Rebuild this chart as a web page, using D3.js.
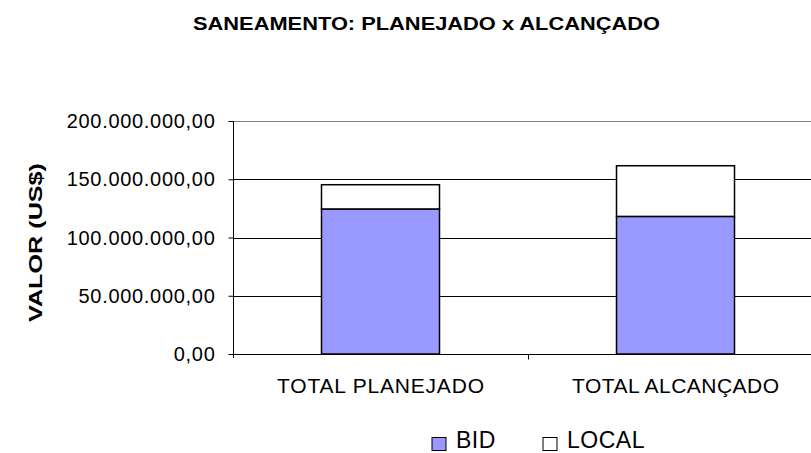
<!DOCTYPE html>
<html>
<head>
<meta charset="utf-8">
<script src="https://cdn.jsdelivr.net/npm/d3@7"></script>
<style>
  body { margin: 0; background: #fff; }
  svg { display: block; font-family: "Liberation Sans", Arial, sans-serif; }
</style>
</head>
<body>
<svg id="chart" width="811" height="453"></svg>
<script>
// DATA
var categories = ['TOTAL PLANEJADO', 'TOTAL ALCANÇADO'];
var bid_values = [124500000, 118100000];
var local_values = [20800000, 43500000];
var y_ticks = [0, 50000000, 100000000, 150000000, 200000000];
var series_names = ['BID', 'LOCAL'];
var series_colors = ['#9999ff', '#ffffff'];

// CHART
var svg = d3.select('svg#chart');
var plot_left = 233, plot_top = 121, plot_bottom = 354, plot_right = 823;

var x = d3.scaleBand().domain(categories).range([plot_left, plot_right]);
var y = d3.scaleLinear().domain([0, 200000000]).range([plot_bottom, plot_top]);

// brazilian number format: 150.000.000,00
var fmt = d3.formatLocale({ decimal: ',', thousands: '.', grouping: [3], currency: ['', ''] }).format(',.2f');

// title
svg.append('text')
    .attr('x', 426.5).attr('y', 30)
    .attr('text-anchor', 'middle')
    .attr('font-size', 18).attr('font-weight', 'bold')
    .attr('textLength', 467).attr('lengthAdjust', 'spacingAndGlyphs')
    .text('SANEAMENTO: PLANEJADO x ALCANÇADO');

// gridlines
svg.append('g').selectAll('line')
    .data(y_ticks.slice(1))
    .join('line')
    .attr('x1', plot_left).attr('x2', 811)
    .attr('y1', function(d) { return Math.round(y(d)) + 0.5; })
    .attr('y2', function(d) { return Math.round(y(d)) + 0.5; })
    .attr('stroke', function(d) { return d === 200000000 ? '#808080' : '#000'; })
    .attr('stroke-width', 1);

// stacked bars
var rows = categories.map(function(c, i) { return { cat: c, BID: bid_values[i], LOCAL: local_values[i] }; });
var stacked = d3.stack().keys(series_names)(rows);
var bw = x.bandwidth() * 0.4;

svg.append('g').selectAll('g')
    .data(stacked)
    .join('g')
    .attr('fill', function(d, i) { return series_colors[i]; })
    .selectAll('rect')
    .data(function(d) { return d; })
    .join('rect')
    .attr('x', function(d) { return x(d.data.cat) + (x.bandwidth() - bw) / 2; })
    .attr('width', bw)
    .attr('y', function(d) { return y(d[1]); })
    .attr('height', function(d) { return y(d[0]) - y(d[1]); })
    .attr('stroke', '#000')
    .attr('stroke-width', 1.5);

// y axis
var yAxis = svg.append('g')
    .attr('transform', 'translate(' + (plot_left + 0.5) + ',0)')
    .call(d3.axisLeft(y).tickValues(y_ticks).tickSize(5).tickPadding(13).tickFormat(fmt));
yAxis.select('.domain').attr('d', 'M0,' + plot_top + 'V' + (plot_bottom + 4)).attr('stroke', '#000');
yAxis.selectAll('text')
    .attr('font-family', '"Liberation Sans", Arial, sans-serif')
    .attr('font-size', 20).attr('fill', '#000')
    .attr('dy', '0.33em')
    .attr('letter-spacing', 0.7);
yAxis.selectAll('.tick line').attr('stroke', '#000');

// x axis
var xAxis = svg.append('g')
    .attr('transform', 'translate(0,' + (plot_bottom + 0.5) + ')');
xAxis.append('line')
    .attr('x1', plot_left).attr('x2', 811)
    .attr('stroke', '#000');
xAxis.selectAll('line.tk')
    .data(categories.slice(1))
    .join('line')
    .attr('class', 'tk')
    .attr('x1', function(d) { return Math.round(x(d)) + 0.5; })
    .attr('x2', function(d) { return Math.round(x(d)) + 0.5; })
    .attr('y1', 0).attr('y2', 5)
    .attr('stroke', '#000');
xAxis.selectAll('text')
    .data(categories)
    .join('text')
    .attr('x', function(d) { return x(d) + x.bandwidth() / 2; })
    .attr('y', 38.5)
    .attr('text-anchor', 'middle')
    .attr('font-size', 21)
    .attr('textLength', 207).attr('lengthAdjust', 'spacing')
    .text(function(d) { return d; });

// y axis title
svg.append('text')
    .attr('transform', 'translate(41.5,242.5) rotate(-90)')
    .attr('text-anchor', 'middle')
    .attr('font-size', 19).attr('font-weight', 'bold')
    .attr('textLength', 159).attr('lengthAdjust', 'spacingAndGlyphs')
    .text('VALOR (US$)');

// legend
var legend_x = [432, 543];
var lg = svg.append('g').selectAll('g')
    .data(series_names)
    .join('g')
    .attr('transform', function(d, i) { return 'translate(' + legend_x[i] + ',437.5)'; });
lg.append('rect')
    .attr('width', 14).attr('height', 13)
    .attr('fill', function(d, i) { return series_colors[i]; })
    .attr('stroke', '#000').attr('stroke-width', 1);
lg.append('text')
    .attr('x', 24).attr('y', 10.5)
    .attr('font-size', 23)
    .attr('letter-spacing', 0.5)
    .text(function(d) { return d; });
</script>
</body>
</html>
